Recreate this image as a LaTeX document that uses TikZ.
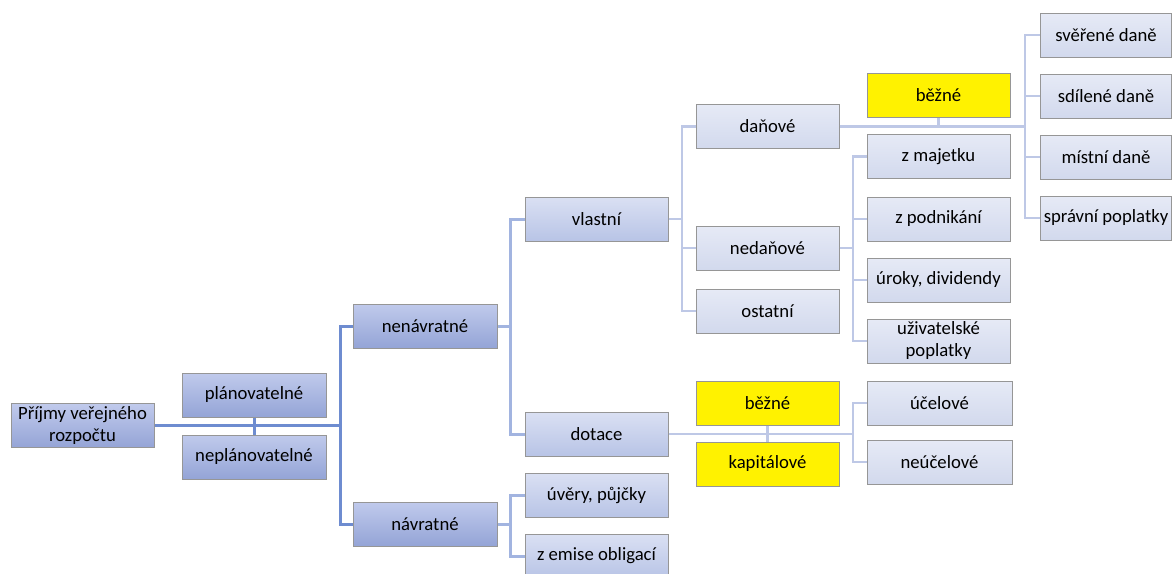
\documentclass[tikz,border=0pt]{standalone}
\usepackage{fontspec}
\setmainfont{Carlito}
\usetikzlibrary{calc}
\definecolor{boxedge}{RGB}{150,150,150}
\definecolor{darktop}{RGB}{192,202,236}
\definecolor{darkbot}{RGB}{148,164,214}
\definecolor{midtop}{RGB}{218,224,243}
\definecolor{midbot}{RGB}{184,196,230}
\definecolor{lighttop}{RGB}{230,234,246}
\definecolor{lightbot}{RGB}{210,217,237}
\definecolor{lineone}{RGB}{110,140,208}
\definecolor{linetwo}{RGB}{162,180,224}
\definecolor{linethree}{RGB}{190,200,230}
\tikzset{
  box/.style={draw=boxedge,line width=1pt,rectangle,minimum width=143,minimum height=44,
    inner sep=1pt,align=center,font=\fontsize{18.7}{22}\selectfont},
  darkbox/.style={box,top color=darktop,bottom color=darkbot},
  midbox/.style={box,top color=midtop,bottom color=midbot},
  lightbox/.style={box,top color=lighttop,bottom color=lightbot},
  yellowbox/.style={box,fill=yellow},
  busone/.style={draw=lineone,line width=3pt},
  bustwo/.style={draw=linetwo,line width=3pt},
  busthree/.style={draw=linethree,line width=2.5pt},
}

\begin{document}
\begin{tikzpicture}[x=1pt,y=-1pt]
			%%%%% START %%%%%
			\def\colA{425}
			\def\colB{596.5}
			\def\colC{767.5}
			\def\colD{938.5}
			\useasboundingbox (0,0) rectangle (1172,573);

			% bus positions
			\coordinate (busA) at (340,0);
			\coordinate (busB) at (510,0);
			\coordinate (busD) at (682,0);
			\coordinate (busE) at (853,0);
			\coordinate (busF) at (1025,0);

			% level 0 and 1
			\node[darkbox] (root) at (82.5,425.5) {Příjmy veřejného\\rozpočtu};
			\node[darkbox,minimum width=144] (plan) at (254,395) {plánovatelné};
			\node[darkbox,minimum width=144] (neplan) at (254,457) {neplánovatelné};
			\node[darkbox,minimum width=144] (nenav) at (\colA,326) {nenávratné};
			\node[darkbox,minimum width=144] (navr) at (\colA,524) {návratné};

			% level 2
			\node[midbox] (vlasni) at (\colB,219) {vlastní};
			\node[midbox] (dotace) at (\colB,434) {dotace};
			\node[midbox] (uvery) at (\colB,495) {úvěry, půjčky};
			\node[midbox] (emise) at (\colB,556) {z emise obligací};

			% level 3
			\node[lightbox] (danove) at (\colC,126.5) {daňové};
			\node[lightbox] (nedanove) at (\colC,248) {nedaňové};
			\node[lightbox] (ostatni) at (\colC,311) {ostatní};
			\node[yellowbox] (bezneA) at (\colD,95.5) {běžné};
			\node[yellowbox] (bezneB) at (\colC,403) {běžné};
			\node[yellowbox] (kapital) at (\colC,464) {kapitálové};

			% level 4
			\node[lightbox] (majetek) at (\colD,156.5) {z majetku};
			\node[lightbox] (podnik) at (\colD,219) {z podnikání};
			\node[lightbox] (uroky) at (\colD,280) {úroky, dividendy};
			\node[lightbox] (uzivat) at (\colD,341) {uživatelské\\poplatky};
			\node[lightbox,minimum width=145] (ucel) at (939.5,403) {účelové};
			\node[lightbox,minimum width=145] (neucel) at (939.5,462) {neúčelové};
			\node[lightbox,minimum width=131] (sverene) at (1106,35) {svěřené daně};
			\node[lightbox,minimum width=131] (sdilene) at (1106,96) {sdílené daně};
			\node[lightbox,minimum width=131] (mistni) at (1106,157) {místní daně};
			\node[lightbox,minimum width=131] (spravni) at (1106,218) {správní poplatky};

			% connectors
			\draw[busone] (plan) -- (neplan);
			\draw[busone] (root.east) -- (root.east -| busA);
			\draw[busone] (nenav.west) -| (busA |- navr) -- (navr.west);

			\draw[bustwo] (nenav.east) -- (nenav.east -| busB);
			\draw[bustwo] (vlasni.west) -| (busB |- dotace) -- (dotace.west);
			\draw[bustwo] (navr.east) -- (navr.east -| busB);
			\draw[bustwo] (uvery.west) -| (busB |- emise) -- (emise.west);

			\draw[busthree] (vlasni.east) -- (vlasni.east -| busD);
			\draw[busthree] (danove.west) -| (busD |- ostatni) -- (ostatni.west);
			\draw[busthree] (nedanove.west) -- (nedanove.west -| busD);

			\draw[busthree] (danove.east) -- (danove.east -| busF);
			\draw[busthree] (bezneA.south) -- (bezneA.south |- danove.east);
			\draw[busthree] (sverene.west) -| (busF |- spravni) -- (spravni.west);
			\draw[busthree] (sdilene.west) -- (sdilene.west -| busF);
			\draw[busthree] (mistni.west) -- (mistni.west -| busF);

			\draw[busthree] (nedanove.east) -- (nedanove.east -| busE);
			\draw[busthree] (majetek.west) -| (busE |- uzivat) -- (uzivat.west);
			\draw[busthree] (podnik.west) -- (podnik.west -| busE);
			\draw[busthree] (uroky.west) -- (uroky.west -| busE);

			\draw[busthree] (dotace.east) -- (dotace.east -| busE);
			\draw[busthree] (bezneB) -- (kapital);
			\draw[busthree] (ucel.west) -| (busE |- neucel) -- (neucel.west);
			%%%%% END %%%%%
\end{tikzpicture}
\end{document}
